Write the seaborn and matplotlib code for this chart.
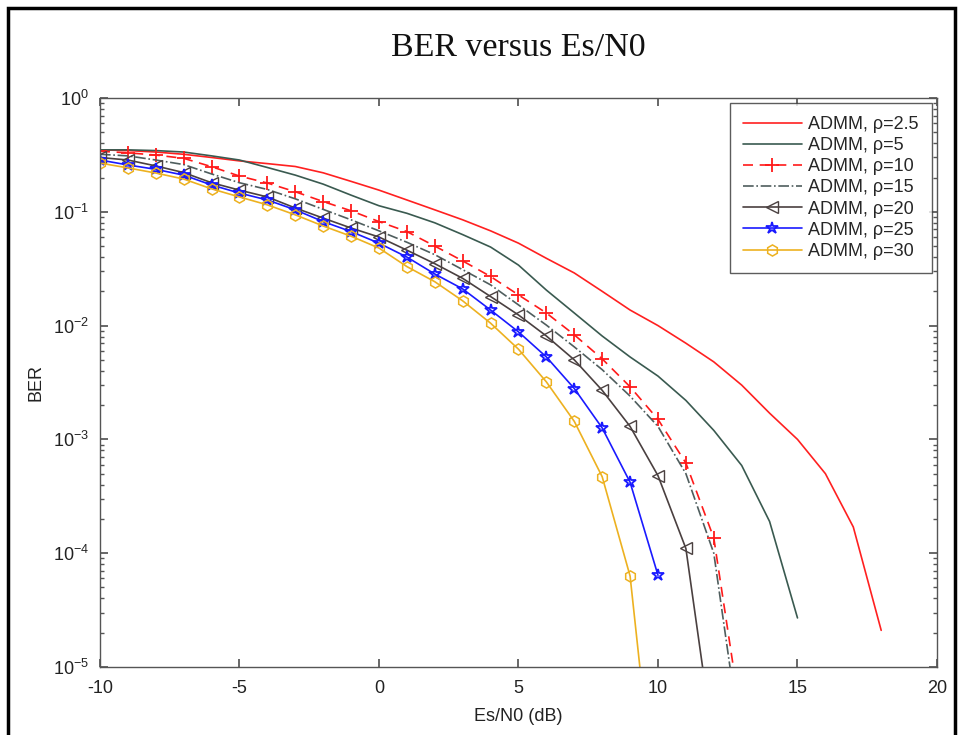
import matplotlib
matplotlib.use("Agg")
import matplotlib.pyplot as plt
import matplotlib.patches as mpatches
from matplotlib.ticker import LogLocator, NullFormatter, MultipleLocator
import seaborn as sns

# SNR axis (dB)
snr_2_5 = list(range(-10, 19))
snr_5 = list(range(-10, 16))
snr_10 = list(range(-10, 14))
snr_15 = list(range(-10, 14))
snr_20 = list(range(-10, 13))
snr_25 = list(range(-10, 11))
snr_30 = list(range(-10, 11))

# BER values
ber_rho_2_5 = [0.35, 0.345, 0.335, 0.32, 0.30, 0.28, 0.265, 0.25, 0.22, 0.185,
               0.155, 0.127, 0.104, 0.085, 0.068, 0.053, 0.039, 0.029, 0.02, 0.0137,
               0.01, 0.007, 0.0048, 0.003, 0.0017, 0.001, 0.0005, 0.00017, 2.1e-5]
ber_rho_5 = [0.35, 0.35, 0.345, 0.335, 0.31, 0.285, 0.245, 0.21, 0.175, 0.14,
             0.113, 0.097, 0.08, 0.063, 0.049, 0.034, 0.0205, 0.0129, 0.0081, 0.0053,
             0.0036, 0.0022, 0.0012, 0.00059, 0.00019, 2.7e-5]
ber_rho_10 = [0.34, 0.33, 0.315, 0.295, 0.249, 0.206, 0.179, 0.150, 0.123, 0.102,
              0.082, 0.067, 0.050, 0.037, 0.027, 0.0186, 0.0129, 0.0083, 0.0051, 0.0029,
              0.0015, 0.00062, 0.000136, 3.3e-6]
ber_rho_15 = [0.32, 0.31, 0.285, 0.26, 0.215, 0.18, 0.157, 0.13, 0.105, 0.085,
              0.068, 0.054, 0.042, 0.031, 0.0228, 0.0152, 0.0101, 0.0065, 0.0041, 0.0024,
              0.0013, 0.0005, 0.0001, 1.9e-6]
ber_rho_20 = [0.30, 0.285, 0.253, 0.221, 0.18, 0.155, 0.135, 0.108, 0.088, 0.072,
              0.060, 0.046, 0.035, 0.026, 0.018, 0.0124, 0.0081, 0.005, 0.0027, 0.0013,
              0.00048, 0.00011, 2e-6]
ber_rho_25 = [0.285, 0.258, 0.236, 0.21, 0.172, 0.146, 0.127, 0.104, 0.082, 0.067,
              0.053, 0.040, 0.0284, 0.021, 0.0137, 0.0088, 0.0053, 0.0028, 0.00126, 0.00042,
              6.4e-5]
ber_rho_30 = [0.268, 0.243, 0.219, 0.194, 0.159, 0.135, 0.115, 0.094, 0.075, 0.061,
              0.048, 0.033, 0.0243, 0.0165, 0.0105, 0.0062, 0.0032, 0.00144, 0.00047, 6.3e-5,
              3.3e-7]

sns.set_theme(style="ticks")
plt.rcParams['font.family'] = ['Liberation Sans', 'DejaVu Sans']
plt.rcParams['axes.unicode_minus'] = False
plt.rcParams['mathtext.default'] = 'regular'

fig = plt.figure(figsize=(9.63, 7.35), dpi=100)
ax = fig.add_axes([0.1038, 0.0925, 0.8692, 0.7742])

series = [
    (snr_2_5, ber_rho_2_5, "ADMM, ρ=2.5", dict(color="#ff2020", linestyle="-")),
    (snr_5, ber_rho_5, "ADMM, ρ=5", dict(color="#3a5a50", linestyle="-")),
    (snr_10, ber_rho_10, "ADMM, ρ=10", dict(color="#ff1a1a", linestyle=(0, (6, 4)),
                                           marker="+", markersize=10, markeredgewidth=1.3)),
    (snr_15, ber_rho_15, "ADMM, ρ=15", dict(color="#4f5e5e", linestyle="-.")),
    (snr_20, ber_rho_20, "ADMM, ρ=20", dict(color="#4a4040", linestyle="-",
                                           marker="<", markersize=9, markerfacecolor="none",
                                           markeredgewidth=1.0)),
    (snr_25, ber_rho_25, "ADMM, ρ=25", dict(color="#1a1aff", linestyle="-",
                                           marker="*", markersize=9, markerfacecolor="none",
                                           markeredgewidth=1.3)),
    (snr_30, ber_rho_30, "ADMM, ρ=30", dict(color="#EDB120", linestyle="-",
                                           marker="h", markersize=8, markerfacecolor="none",
                                           markeredgewidth=1.1)),
]

for x, y, label, style in series:
    style.setdefault("markeredgecolor", style["color"])
    sns.lineplot(x=x, y=y, ax=ax, label=label, sort=False, errorbar=None,
                 linewidth=1.2, **style)

ax.set_yscale("log")
ax.set_xlim(-10, 20)
ax.set_ylim(1e-5, 1)
ax.xaxis.set_major_locator(MultipleLocator(5))
ax.yaxis.set_major_locator(LogLocator(base=10, numticks=10))
ax.yaxis.set_minor_locator(LogLocator(base=10, subs=range(2, 10), numticks=100))
ax.yaxis.set_minor_formatter(NullFormatter())

edge = "#555555"
for s in ax.spines.values():
    s.set_visible(True)
    s.set_color(edge)
    s.set_linewidth(1.0)
ax.tick_params(which="both", direction="in", top=True, right=True, colors=edge,
               labelcolor="#222222", labelsize=13)
ax.tick_params(which="major", length=6)
ax.tick_params(which="minor", length=3)
ax.tick_params(axis="x", pad=9)
ax.tick_params(axis="y", pad=8)

ax.set_xlabel("Es/N0 (dB)", fontsize=13, color="#222222", labelpad=8)
ax.set_ylabel("BER", fontsize=13, color="#222222", labelpad=6)
ax.set_title("BER versus Es/N0", fontsize=24.5, family=["Liberation Serif", "DejaVu Serif"],
             color="#111111", pad=30)

leg = ax.legend(loc="upper right", fontsize=13, frameon=True, fancybox=False,
                handlelength=3.3, labelspacing=0.23, borderpad=0.7,
                handletextpad=0.35, borderaxespad=0.3)
leg.get_frame().set_edgecolor("#333333")
leg.get_frame().set_linewidth(1.0)

# outer black frame of the picture
fig.patches.append(mpatches.Rectangle((8 / 963, -0.02), 947 / 963, 1.02 - 8 / 735,
                                      transform=fig.transFigure, fill=False,
                                      edgecolor="black", linewidth=2.5))

fig.savefig("out.png", dpi=100)
